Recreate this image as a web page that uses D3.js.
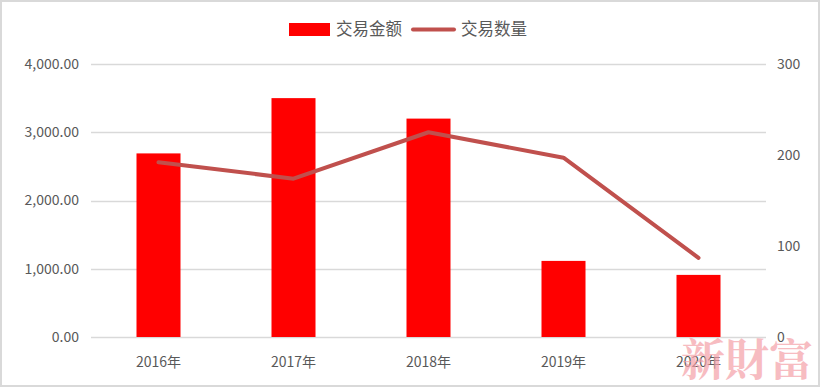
<!DOCTYPE html>
<html>
<head>
<meta charset="utf-8">
<script src="https://cdn.jsdelivr.net/npm/d3@7"></script>
<style>
  body { margin: 0; background: #fff; }
  svg text { font-family: "Microsoft YaHei", "Noto Sans CJK SC", "DejaVu Sans", sans-serif; fill: #595959; }
</style>
</head>
<body>
<svg id="chart" width="821" height="388"></svg>
<script>
// chart values
const years = ["2016年", "2017年", "2018年", "2019年", "2020年"];
const amounts = [2690, 3500, 3200, 1115, 910];   // 交易金额
const counts = [192, 174, 225, 197, 87];          // 交易数量
const leftTicks = [0, 1000, 2000, 3000, 4000];
const rightTicks = [0, 100, 200, 300];

const svg = d3.select("#chart");
const W = 821, H = 388;
const m = {left: 91, right: 55, top: 64, bottom: 51};

/* frame */
svg.append("rect")
  .attr("x", 1).attr("y", 1)
  .attr("width", W - 3).attr("height", H - 3)
  .attr("fill", "#fff")
  .attr("stroke", "#d9d9d9")
  .attr("stroke-width", 2);

const x = d3.scaleBand()
  .domain(years)
  .range([m.left, W - m.right])
  .paddingInner(0.674)
  .paddingOuter(0.337);

const yL = d3.scaleLinear().domain([0, 4000]).range([H - m.bottom, m.top]);
const yR = d3.scaleLinear().domain([0, 300]).range([H - m.bottom, m.top]);

// gridlines
svg.append("g")
  .selectAll("line")
  .data(leftTicks)
  .enter()
  .append("line")
  .attr("x1", m.left).attr("x2", W - m.right)
  .attr("y1", d => Math.round(yL(d)) + 0.5)
  .attr("y2", d => Math.round(yL(d)) + 0.5)
  .attr("stroke", "#d9d9d9")
  .attr("stroke-width", 1.3);

// left axis labels
const fmt = d3.format(",.2f");
svg.append("g")
  .selectAll("text")
  .data(leftTicks)
  .enter()
  .append("text")
  .attr("x", 79)
  .attr("y", d => yL(d))
  .attr("dy", "0.35em")
  .attr("text-anchor", "end")
  .attr("font-size", "14px")
  .text(d => fmt(d));

// right axis labels
svg.append("g")
  .selectAll("text")
  .data(rightTicks)
  .enter()
  .append("text")
  .attr("x", 777)
  .attr("y", d => yR(d))
  .attr("dy", "0.35em")
  .attr("text-anchor", "start")
  .attr("font-size", "14px")
  .text(d => d);

// bars
svg.append("g")
  .selectAll("rect")
  .data(amounts)
  .enter()
  .append("rect")
  .attr("x", (d, i) => x(years[i]))
  .attr("y", d => yL(d))
  .attr("width", x.bandwidth())
  .attr("height", d => yL(0) - yL(d))
  .attr("fill", "#ff0000");

// category labels
svg.append("g")
  .selectAll("text")
  .data(years)
  .enter()
  .append("text")
  .attr("x", d => x(d) + x.bandwidth() / 2)
  .attr("y", 362)
  .attr("dy", "0.35em")
  .attr("text-anchor", "middle")
  .attr("font-size", "14px")
  .text(d => d);

// count line
const line = d3.line()
  .x((d, i) => x(years[i]) + x.bandwidth() / 2)
  .y(d => yR(d));

svg.append("path")
  .datum(counts)
  .attr("d", line)
  .attr("fill", "none")
  .attr("stroke", "#c0504d")
  .attr("stroke-width", 4)
  .attr("stroke-linejoin", "round")
  .attr("stroke-linecap", "round");

// legend
const lg = svg.append("g");
lg.append("rect")
  .attr("x", 289).attr("y", 23)
  .attr("width", 41).attr("height", 13)
  .attr("fill", "#ff0000");
lg.append("text")
  .attr("x", 336).attr("y", 29)
  .attr("dy", "0.35em")
  .attr("font-size", "16.5px")
  .text("交易金额");
lg.append("line")
  .attr("x1", 413).attr("x2", 454)
  .attr("y1", 29.5).attr("y2", 29.5)
  .attr("stroke", "#c0504d")
  .attr("stroke-width", 4)
  .attr("stroke-linecap", "round");
lg.append("text")
  .attr("x", 461).attr("y", 29)
  .attr("dy", "0.35em")
  .attr("font-size", "16.5px")
  .text("交易数量");

/* watermark */
svg.append("text")
  .attr("x", 747).attr("y", 361)
  .attr("dy", "0.35em")
  .attr("text-anchor", "middle")
  .attr("font-size", "44px")
  .attr("font-weight", "bold")
  .style("font-family", "'Noto Serif CJK SC', 'Noto Sans CJK TC', serif")
  .style("fill", "#f4a0a8")
  .attr("opacity", 0.7)
  .text("新財富");
</script>
</body>
</html>
